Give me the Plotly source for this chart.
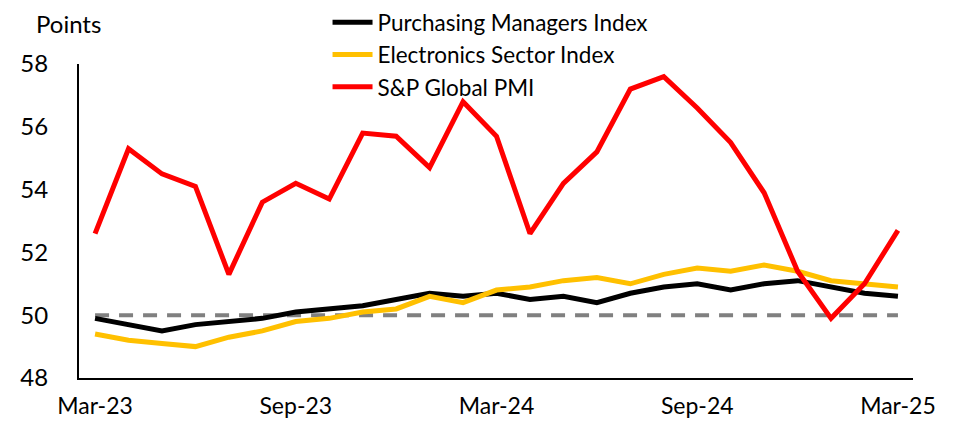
import plotly.graph_objects as go

months = ["Mar-23","Apr-23","May-23","Jun-23","Jul-23","Aug-23","Sep-23","Oct-23","Nov-23","Dec-23",
          "Jan-24","Feb-24","Mar-24","Apr-24","May-24","Jun-24","Jul-24","Aug-24","Sep-24","Oct-24",
          "Nov-24","Dec-24","Jan-25","Feb-25","Mar-25"]
pmi = [49.9,49.7,49.5,49.7,49.8,49.9,50.1,50.2,50.3,50.5,50.7,50.6,50.7,50.5,50.6,50.4,50.7,50.9,51.0,50.8,51.0,51.1,50.9,50.7,50.6]
electronics = [49.4,49.2,49.1,49.0,49.3,49.5,49.8,49.9,50.1,50.2,50.6,50.4,50.8,50.9,51.1,51.2,51.0,51.3,51.5,51.4,51.6,51.4,51.1,51.0,50.9]
sp_global = [52.6,55.3,54.5,54.1,51.3,53.6,54.2,53.7,55.8,55.7,54.7,56.8,55.7,52.6,54.2,55.2,57.2,57.6,56.6,55.5,53.9,51.4,49.9,51.0,52.7]
threshold = [50]*len(months)
tick_labels = ["Mar-23","Sep-23","Mar-24","Sep-24","Mar-25"]
tick_idx = [months.index(t) for t in tick_labels]
x = list(range(len(months)))

fig = go.Figure()
fig.add_trace(go.Scatter(x=x, y=threshold, mode="lines", showlegend=False,
                         line=dict(color="#808080", width=4, dash="14px,10px"), hoverinfo="skip"))
fig.add_trace(go.Scatter(x=x, y=pmi, mode="lines", name="Purchasing Managers Index",
                         line=dict(color="#000000", width=5)))
fig.add_trace(go.Scatter(x=x, y=electronics, mode="lines", name="Electronics Sector Index",
                         line=dict(color="#FFC000", width=5)))
fig.add_trace(go.Scatter(x=x, y=sp_global, mode="lines", name="S&P Global PMI",
                         line=dict(color="#FF0000", width=5)))

font = "Lato, 'Open Sans', sans-serif"
fig.update_layout(
    width=957, height=424,
    margin=dict(l=71, r=52, t=56, b=54, autoexpand=False),
    paper_bgcolor="white", plot_bgcolor="white",
    font=dict(family=font, size=24, color="black"),
    showlegend=True,
    legend=dict(x=0.298, y=1.2, xanchor="left", yanchor="top",
                bgcolor="rgba(0,0,0,0)", font=dict(size=22.5), tracegroupgap=0,
                itemwidth=40),
    xaxis=dict(range=[-0.48, 24.45], tickvals=tick_idx, ticktext=tick_labels,
               showgrid=False, zeroline=False, showline=True, linecolor="black", linewidth=2,
               ticks="", ticklabelstandoff=6, tickfont=dict(size=23)),
    yaxis=dict(range=[48, 58], dtick=2, showgrid=False, zeroline=False,
               showline=True, linecolor="black", linewidth=2, ticks="",
               ticklabelstandoff=24, tickfont=dict(size=24)),
    annotations=[dict(text="Points", xref="paper", yref="paper", x=-0.054, y=1.077,
                      xanchor="left", yanchor="bottom", showarrow=False, font=dict(size=24))],
)
fig.write_html("out.html")
